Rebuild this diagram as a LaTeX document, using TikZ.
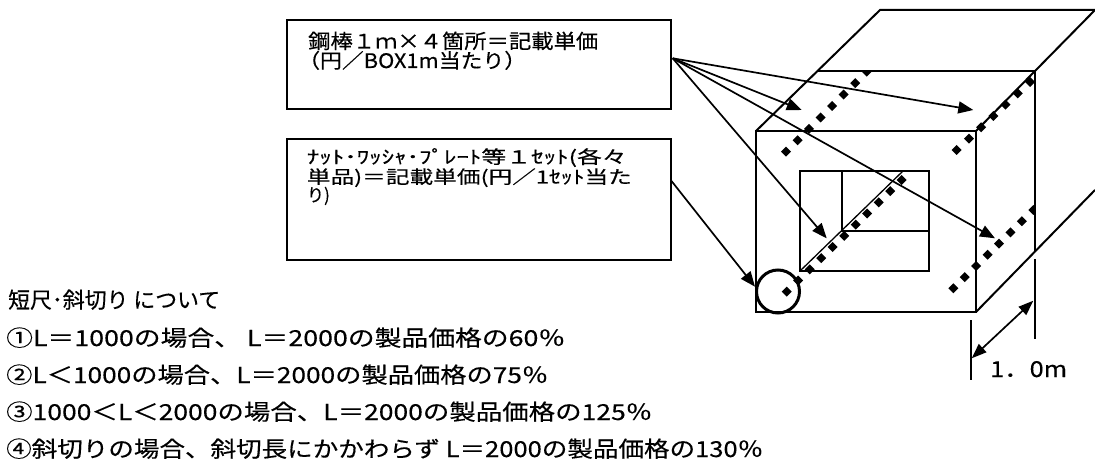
\documentclass[tikz,border=0pt]{standalone}
\usepackage{fontspec}
\usepackage{graphicx}
\setmainfont{Noto Sans CJK JP}[FakeBold=0.3]
\usetikzlibrary{arrows.meta,calc}
\newlength\myfitw
\newcommand\myfit[2]{\settowidth\myfitw{#2}\pgfmathsetmacro\myfitsx{#1/\myfitw}\scalebox{\myfitsx}[1]{#2}}
\begin{document}
\begin{tikzpicture}[x=1pt,y=-1pt,
  edge/.style={line width=2pt},
  thin edge/.style={line width=1.3pt},
  boxst/.style={draw,line width=2pt,inner sep=0pt,anchor=north west},
  txt/.style={inner sep=0pt,anchor=base west},
  arr/.style={line width=1.7pt,-{Triangle[length=15pt,width=12pt]}},
  dimarr/.style={line width=1.7pt,{Triangle[length=15pt,width=11pt]}-{Triangle[length=15pt,width=11pt]}},
  ring/.style={draw,circle,line width=3pt,minimum size=43pt,inner sep=0pt},
  big/.style={font=\fontsize{22pt}{22pt}\selectfont},
  mid/.style={font=\fontsize{20pt}{20pt}\selectfont},
  small/.style={font=\fontsize{18pt}{18pt}\selectfont}]
\useasboundingbox (0,0) rectangle (1095,465);
\fill[white] (0,0) rectangle (1095,465);

% ---- boxes with labels
\node[boxst,minimum width=384.3pt,minimum height=88.7pt] (box1) at (285.7,19) {};
\node[boxst,minimum width=384.3pt,minimum height=121pt] (box2) at (285.7,138.3) {};
\node[txt,mid] (b1a) at (308,48.5) {\myfit{290}{鋼棒１ｍ×４箇所＝記載単価}};
\node[txt,mid] (b1b) at (298,68) {\myfit{228}{（円／BOX1m当たり）}};
\node[txt,small] (b2a) at (306.7,163.5) {\myfit{320}{ﾅｯﾄ･ﾜｯｼｬ･ﾌﾟﾚｰﾄ等１ｾｯﾄ(各々}};
\node[txt,small] (b2b) at (306.7,183.5) {\myfit{325}{単品)＝記載単価(円／1ｾｯﾄ当た}};
\node[txt,small] (b2c) at (306.7,201.5) {\myfit{23}{り)}};

% ---- the box drawing
\draw[edge] (756,131) rectangle (976,312);
\draw[edge] (756,131) -- (880,10) -- (1095,10);
\draw[edge] (817,71) -- (1035,71);
\draw[edge] (976,131) -- (1095,10);
\draw[edge] (1035,71) -- (1035,252);
\draw[edge] (1035,259) -- (1035,339);
\draw[edge] (976,312) -- (1095,190);
% window
\draw[edge] (800,171) rectangle (929,271);
\draw[edge] (842,171) -- (842,231) -- (929,231);
\draw[thin edge] (800,271) -- (903,171);

% ---- dotted bars (diamonds)
\begin{scope}
\clip (0,71) rectangle (1035,465);
\foreach \ax/\ay/\bx/\by/\n in {866.7/71.7/786/151.7/7, 1030/82/956.7/150/6, 901.7/180/786.7/291.7/10, 1033.3/210/953.3/288.3/7}{
  \foreach \i in {0,...,\n}{
    \fill ($(\ax,\ay)!\i/\n!(\bx,\by)$) ++(0,-5) -- ++(5,5) -- ++(-5,5) -- ++(-5,-5) -- cycle;
  }
}
\end{scope}

% ---- ring
\node[ring] (ring) at (778,291.5) {};

% ---- arrows
\coordinate (s1) at (672.7,58.3);
\coordinate (s2) at (670.7,180);
\coordinate (t1) at (801.7,110);
\coordinate (t2) at (973.3,110);
\coordinate (t3) at (826.7,238.3);
\coordinate (t4) at (995,238.3);
\coordinate (t5) at (755,286.7);
\draw[arr] (s1) -- (t1);
\draw[arr] (s1) -- (t2);
\draw[arr] (s1) -- (t3);
\draw[arr] (s1) -- (t4);
\draw[arr] (s2) -- (t5);

% ---- dimension
\draw[edge] (970.7,320) -- (970.7,380);
\coordinate (d1) at (971.7,358.3);
\coordinate (d2) at (1033.3,300.7);
\draw[dimarr] (d1) -- (d2);
\node[txt,big] (dim) at (990,377) {\myfit{77}{1．0m}};

% ---- notes
\node[txt,big] (n0) at (8,308) {\myfit{212}{短尺･斜切り について}};
\node[txt,big] (n1) at (6,346) {\myfit{559}{①L＝1000の場合、 L＝2000の製品価格の60％}};
\node[txt,big] (n2) at (6,383) {\myfit{542}{②L＜1000の場合、L＝2000の製品価格の75％}};
\node[txt,big] (n3) at (6,420) {\myfit{646}{③1000＜L＜2000の場合、L＝2000の製品価格の125％}};
\node[txt,big] (n4) at (6,457) {\myfit{757}{④斜切りの場合、斜切長にかかわらず L＝2000の製品価格の130％}};
\end{tikzpicture}
\end{document}
